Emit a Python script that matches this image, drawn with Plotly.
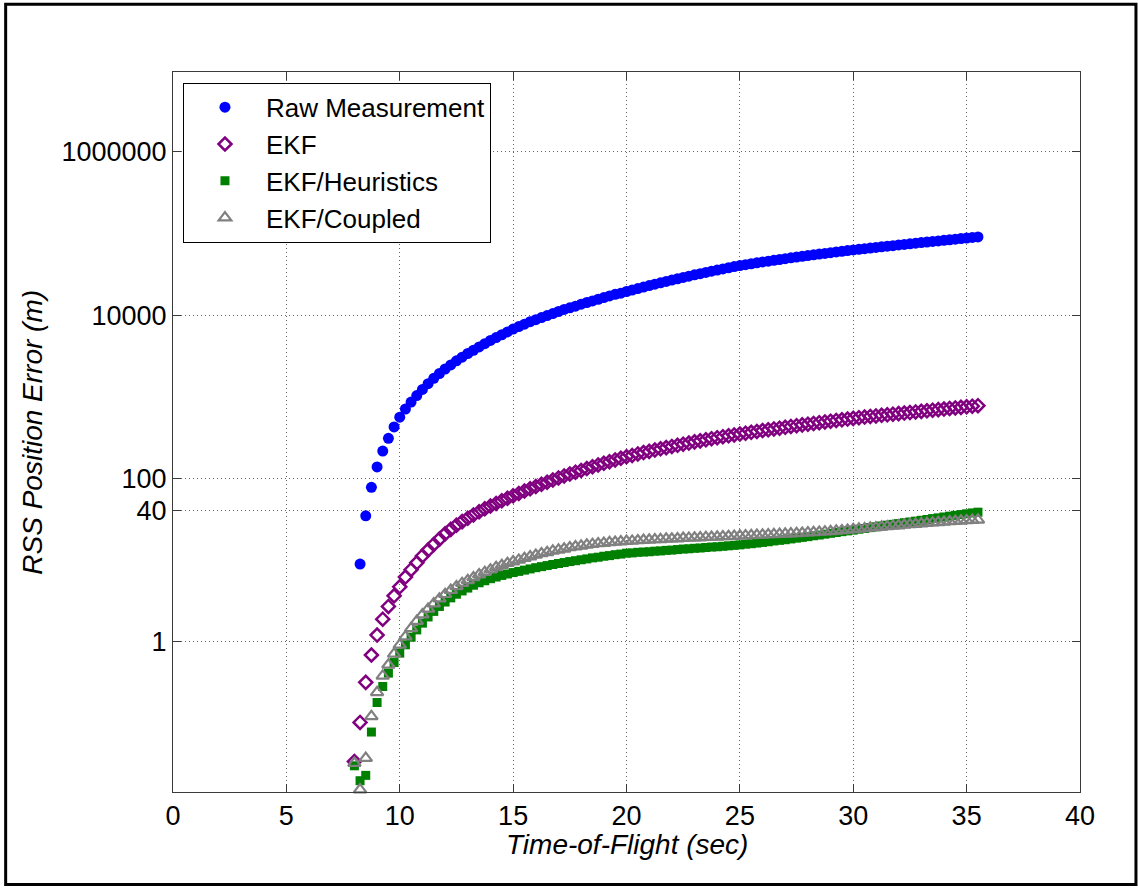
import plotly.graph_objects as go

# ---------------- data ----------------
time_s = [
    8.0, 8.25, 8.5, 8.75, 9.0, 9.25, 9.5, 9.75,
    10.0, 10.25, 10.5, 10.75, 11.0, 11.25, 11.5, 11.75,
    12.0, 12.25, 12.5, 12.75, 13.0, 13.25, 13.5, 13.75,
    14.0, 14.25, 14.5, 14.75, 15.0, 15.25, 15.5, 15.75,
    16.0, 16.25, 16.5, 16.75, 17.0, 17.25, 17.5, 17.75,
    18.0, 18.25, 18.5, 18.75, 19.0, 19.25, 19.5, 19.75,
    20.0, 20.25, 20.5, 20.75, 21.0, 21.25, 21.5, 21.75,
    22.0, 22.25, 22.5, 22.75, 23.0, 23.25, 23.5, 23.75,
    24.0, 24.25, 24.5, 24.75, 25.0, 25.25, 25.5, 25.75,
    26.0, 26.25, 26.5, 26.75, 27.0, 27.25, 27.5, 27.75,
    28.0, 28.25, 28.5, 28.75, 29.0, 29.25, 29.5, 29.75,
    30.0, 30.25, 30.5, 30.75, 31.0, 31.25, 31.5, 31.75,
    32.0, 32.25, 32.5, 32.75, 33.0, 33.25, 33.5, 33.75,
    34.0, 34.25, 34.5, 34.75, 35.0, 35.25, 35.5,
]

raw_time = time_s[1:]  # raw measurement starts at 8.25 s

raw_measurement = [
    8.9, 34.7, 77.6, 138, 216, 309, 427, 562,
    708, 861, 1035, 1230, 1445, 1680, 1928, 2188,
    2455, 2754, 3055, 3388, 3715, 4074, 4467, 4898,
    5309, 5754, 6237, 6761, 7244, 7762, 8318, 8810,
    9333, 9886, 10470, 11090, 11750, 12300, 12880, 13650,
    14290, 14960, 15670, 16410, 17180, 17990, 18620, 19500,
    20320, 21180, 22080, 23010, 23930, 24890, 25880, 26920,
    27930, 28970, 30060, 31190, 32280, 33420, 34590, 35730,
    36900, 38110, 39360, 40550, 41590, 42660, 43750, 44870,
    45920, 46990, 48080, 49200, 50350, 51520, 52600, 53700,
    54830, 55980, 57150, 58340, 59570, 60670, 61800, 62950,
    64120, 65310, 66370, 67610, 68710, 69980, 71120, 72440,
    73620, 74820, 76210, 77450, 78700, 79980, 81280, 82600,
    83950, 85310, 86700, 88100, 89540, 90990,
]

ekf = [
    0.0339, 0.102, 0.316, 0.684, 1.20, 1.88, 2.69, 3.63,
    4.68, 6.17, 7.59, 9.23, 11.2, 13.2, 15.5, 18.0,
    20.9, 23.7, 26.6, 29.5, 32.5, 35.6, 38.9, 42.3,
    45.7, 49.3, 53.1, 57.0, 61.1, 65.3, 69.8, 74.5,
    79.4, 84.5, 89.7, 95.3, 101, 107, 113, 119,
    125, 132, 139, 146, 153, 160, 168, 176,
    184, 191, 199, 207, 214, 222, 230, 238,
    246, 254, 262, 271, 280, 288, 297, 306,
    315, 324, 332, 340, 349, 358, 367, 376,
    385, 394, 403, 412, 422, 432, 442, 452,
    461, 471, 481, 491, 501, 512, 522, 533,
    543, 553, 564, 573, 582, 592, 601, 611,
    621, 631, 641, 652, 662, 673, 684, 695,
    706, 718, 729, 741, 753, 766, 776,
]

ekf_heuristics = [
    0.030, 0.0197, 0.0229, 0.0778, 0.179, 0.281, 0.41, 0.553,
    0.721, 0.912, 1.13, 1.39, 1.68, 2.00, 2.34, 2.69,
    3.05, 3.43, 3.80, 4.17, 4.52, 4.90, 5.25, 5.56,
    5.89, 6.17, 6.46, 6.73, 7.00, 7.24, 7.50, 7.76,
    8.04, 8.28, 8.53, 8.79, 9.04, 9.29, 9.55, 9.79,
    10.05, 10.3, 10.6, 10.8, 11.1, 11.3, 11.6, 11.8,
    12.1, 12.2, 12.4, 12.5, 12.6, 12.8, 12.9, 13.1,
    13.2, 13.4, 13.6, 13.7, 13.9, 14.0, 14.2, 14.4,
    14.5, 14.7, 14.9, 15.1, 15.3, 15.6, 15.8, 16.1,
    16.4, 16.7, 17.1, 17.4, 17.7, 18.1, 18.5, 18.9,
    19.3, 19.8, 20.2, 20.7, 21.2, 21.7, 22.2, 22.7,
    23.2, 23.8, 24.3, 24.9, 25.5, 26.1, 26.7, 27.3,
    27.9, 28.6, 29.2, 29.9, 30.6, 31.3, 32.1, 32.8,
    33.6, 34.4, 35.2, 36.0, 36.8, 37.7, 38.5,
]

ekf_coupled = [
    0.0324, 0.0153, 0.0373, 0.121, 0.238, 0.380, 0.519, 0.706,
    0.912, 1.15, 1.45, 1.78, 2.14, 2.51, 2.92, 3.35,
    3.80, 4.27, 4.73, 5.19, 5.62, 6.10, 6.61, 7.08,
    7.59, 8.13, 8.61, 9.12, 9.55, 10.0, 10.5, 11.0,
    11.5, 12.0, 12.4, 12.9, 13.3, 13.7, 14.2, 14.6,
    14.9, 15.3, 15.6, 15.9, 16.1, 16.4, 16.6, 16.8,
    17.0, 17.1, 17.3, 17.5, 17.6, 17.8, 17.9, 18.1,
    18.2, 18.3, 18.5, 18.6, 18.7, 18.8, 19.0, 19.1,
    19.2, 19.4, 19.5, 19.6, 19.8, 19.9, 20.0, 20.2,
    20.3, 20.5, 20.6, 20.7, 20.9, 21.0, 21.2, 21.4,
    21.6, 21.8, 22.0, 22.2, 22.4, 22.7, 23.0, 23.3,
    23.7, 24.0, 24.3, 24.7, 25.0, 25.4, 25.7, 26.1,
    26.4, 26.8, 27.2, 27.5, 27.9, 28.2, 28.6, 28.9,
    29.2, 29.6, 29.9, 30.2, 30.5, 30.8, 31.0,
]

x_ticks = [0, 5, 10, 15, 20, 25, 30, 35, 40]
y_ticks = [1, 40, 100, 10000, 1000000]
y_tick_labels = ["1", "40", "100", "10000", "1000000"]

# ---------------- figure ----------------
FONT = "Liberation Sans, Arial, Helvetica, sans-serif"
AXIS_COL = "#3a3a3a"
GRID_COL = "rgba(0,0,0,0.6)"

fig = go.Figure()
fig.add_trace(go.Scatter(
    x=raw_time, y=raw_measurement, mode="markers", name="Raw Measurement",
    marker=dict(symbol="circle", size=11, color="#0000ff", line=dict(width=0)),
    cliponaxis=False,
))
fig.add_trace(go.Scatter(
    x=time_s, y=ekf, mode="markers", name="EKF",
    marker=dict(symbol="diamond-open", size=10, color="#800080",
                line=dict(width=2.5, color="#800080")),
    cliponaxis=False,
))
fig.add_trace(go.Scatter(
    x=time_s, y=ekf_heuristics, mode="markers", name="EKF/Heuristics",
    marker=dict(symbol="square", size=9, color="#008000", line=dict(width=0)),
    cliponaxis=False,
))
fig.add_trace(go.Scatter(
    x=time_s, y=ekf_coupled, mode="markers", name="EKF/Coupled",
    marker=dict(symbol="triangle-up-open", size=11, color="#808080",
                line=dict(width=2.2, color="#808080")),
    cliponaxis=False,
))

axis_common = dict(
    showline=True, linecolor=AXIS_COL, linewidth=1, mirror="allticks",
    ticks="inside", ticklen=8, tickcolor=AXIS_COL, tickwidth=1,
    showgrid=True, gridcolor=GRID_COL, griddash="1px,3px", gridwidth=1,
    zeroline=False, tickfont=dict(size=27, color="black", family=FONT),
)

fig.update_layout(
    width=1138, height=888,
    margin=dict(l=173, r=58, t=72, b=96),
    paper_bgcolor="white", plot_bgcolor="white",
    font=dict(family=FONT, color="black"),
    xaxis=dict(range=[0, 40], tickvals=x_ticks, **axis_common),
    yaxis=dict(type="log", range=[-1.844, 6.98], tickvals=y_ticks,
               ticktext=y_tick_labels, **axis_common),
    showlegend=True,
    legend=dict(
        x=0.011, y=0.985, xanchor="left", yanchor="top",
        bgcolor="white", bordercolor="black", borderwidth=1,
        font=dict(size=26, family=FONT, color="black"),
        itemwidth=72, tracegroupgap=0, itemsizing="trace",
    ),
    annotations=[
        dict(text="Time-of-Flight (sec)", xref="paper", yref="paper",
             x=0.5, y=-0.0731, xanchor="center", yanchor="middle",
             showarrow=False,
             font=dict(size=28, family=FONT, color="black", style="italic")),
        dict(text="RSS Position Error (m)", xref="paper", yref="paper",
             x=-0.1558, y=0.5, xanchor="center", yanchor="middle",
             textangle=-90, showarrow=False,
             font=dict(size=28, family=FONT, color="black", style="italic")),
    ],
    shapes=[
        dict(type="rect", xref="paper", yref="paper",
             x0=-0.1845, x1=1.0617, y0=-0.1286, y1=1.0940,
             line=dict(color="black", width=3), layer="below"),
    ],
)

fig.write_html("out.html")
